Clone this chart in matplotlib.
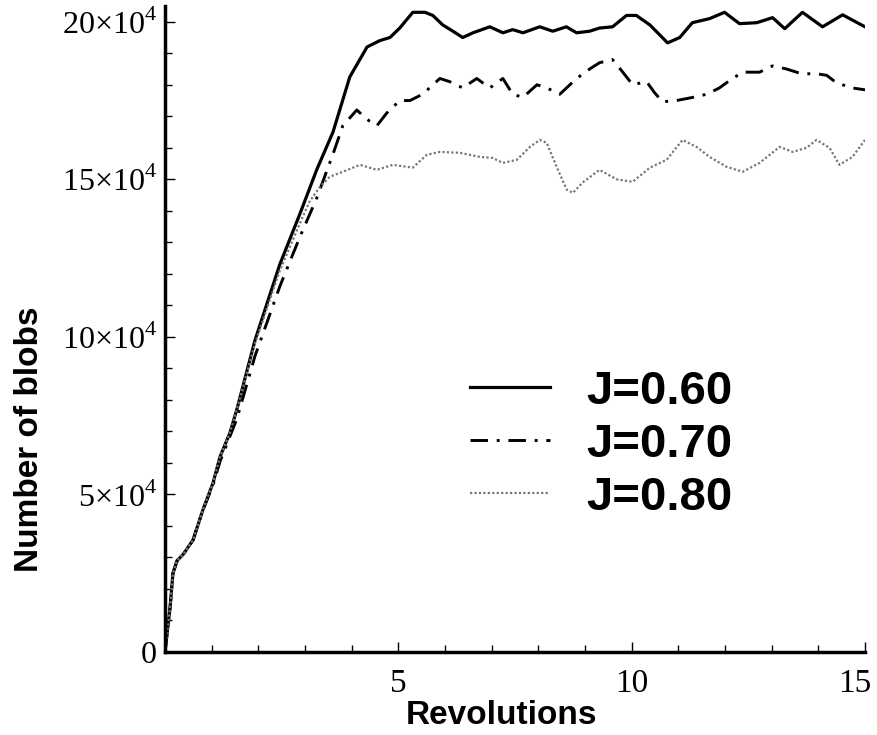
import numpy as np
import matplotlib
matplotlib.use('Agg')
import matplotlib.pyplot as plt
from matplotlib.transforms import ScaledTranslation

# number of blobs, in units of 1e4
j060_x = [0, 0.11, 0.17, 0.26, 0.39, 0.6, 0.81, 1.03, 1.18, 1.39, 1.54, 1.93, 2.46, 2.89, 3.25,
          3.6, 3.96, 4.33, 4.6, 4.82, 5.03, 5.31, 5.57, 5.74, 5.95, 6.17, 6.38, 6.6, 6.96, 7.24,
          7.45, 7.67, 8.03, 8.31, 8.6, 8.82, 9.1, 9.31, 9.59, 9.89, 10.1, 10.39, 10.77, 11.03,
          11.3, 11.67, 11.99, 12.31, 12.68, 13.02, 13.28, 13.66, 14.09, 14.52, 15.0]
j060_y = [0, 1.43, 2.5, 2.9, 3.1, 3.55, 4.5, 5.37, 6.2, 6.95, 7.7, 9.9, 12.3, 13.9, 15.3,
          16.5, 18.25, 19.2, 19.4, 19.5, 19.8, 20.3, 20.3, 20.2, 19.9, 19.7, 19.5, 19.65, 19.84, 19.65,
          19.75, 19.65, 19.84, 19.7, 19.84, 19.65, 19.7, 19.8, 19.84, 20.2, 20.2, 19.9, 19.33, 19.5,
          19.97, 20.1, 20.3, 19.94, 19.97, 20.13, 19.78, 20.3, 19.84, 20.22, 19.84]

j070_x = [0, 0.11, 0.17, 0.26, 0.39, 0.6, 0.81, 1.03, 1.18, 1.54, 1.93, 2.46, 2.89, 3.25, 3.6,
          3.81, 4.11, 4.33, 4.54, 4.75, 5.03, 5.25, 5.52, 5.89, 6.1, 6.38, 6.68, 6.96, 7.24, 7.45,
          7.67, 7.97, 8.18, 8.46, 8.82, 9.1, 9.31, 9.59, 9.81, 10.02, 10.32, 10.49, 10.66, 10.96,
          11.31, 11.61, 11.88, 12.16, 12.38, 12.74, 13.02, 13.32, 13.64, 13.96, 14.18, 14.39, 14.73, 15.0]
j070_y = [0, 1.43, 2.5, 2.9, 3.1, 3.55, 4.5, 5.3, 6.05, 7.4, 9.4, 11.6, 13.17, 14.4, 15.8,
          16.7, 17.2, 16.9, 16.7, 17.1, 17.5, 17.5, 17.7, 18.2, 18.1, 17.9, 18.2, 17.9, 18.2, 17.7,
          17.6, 18.0, 17.9, 17.7, 18.2, 18.5, 18.7, 18.8, 18.4, 18.0, 18.1, 17.75, 17.46, 17.5,
          17.6, 17.7, 17.9, 18.2, 18.4, 18.4, 18.6, 18.5, 18.35, 18.35, 18.3, 18.06, 17.9, 17.84]

j080_x = [0, 0.11, 0.17, 0.26, 0.39, 0.6, 0.81, 1.03, 1.18, 1.39, 1.54, 1.93, 2.46, 2.89, 3.1,
          3.32, 3.53, 3.81, 4.18, 4.54, 4.88, 5.31, 5.61, 5.89, 6.32, 6.75, 7.02, 7.24, 7.54, 7.82,
          8.03, 8.18, 8.39, 8.61, 8.74, 8.95, 9.31, 9.68, 10.02, 10.39, 10.75, 11.09, 11.39, 11.67,
          12.03, 12.38, 12.74, 13.17, 13.45, 13.75, 13.96, 14.24, 14.45, 14.73, 15.0]
j080_y = [0, 1.43, 2.5, 2.9, 3.1, 3.55, 4.5, 5.37, 6.2, 6.95, 7.7, 9.8, 12.1, 13.6, 14.3,
          14.76, 15.08, 15.24, 15.46, 15.3, 15.46, 15.37, 15.78, 15.87, 15.84, 15.71, 15.68, 15.52, 15.62, 16.03,
          16.25, 16.16, 15.4, 14.67, 14.57, 14.9, 15.3, 15.0, 14.92, 15.37, 15.62, 16.25, 16.03, 15.71,
          15.4, 15.24, 15.52, 16.03, 15.87, 16.0, 16.25, 16.0, 15.46, 15.71, 16.25]

labels = ['J=0.60', 'J=0.70', 'J=0.80']
y_ticks = [0, 5, 10, 15, 20]
x_ticks = [5, 10, 15]

plt.rcParams['mathtext.fontset'] = 'custom'
plt.rcParams['mathtext.rm'] = 'Liberation Serif'

fig = plt.figure(figsize=(8.77, 7.35), dpi=100)
ax = fig.add_axes([165 / 877, 1 - 652 / 735, 700 / 877, 646 / 735])

ax.plot(j060_x, np.array(j060_y) * 1e4, color='black', lw=2.3, label=labels[0])
ax.plot(j070_x, np.array(j070_y) * 1e4, color='black', lw=2.1,
        linestyle=(0, (6, 3, 1, 3)), label=labels[1])
ax.plot(j080_x, np.array(j080_y) * 1e4, color='#777777', lw=1.6,
        linestyle=(0, (1, 1)), label=labels[2])

ax.set_xlim(0, 15)
ax.set_ylim(0, 20.5e4)

for s in ['top', 'right']:
    ax.spines[s].set_visible(False)
for s in ['left', 'bottom']:
    ax.spines[s].set_linewidth(2.5)

ax.set_xticks(x_ticks)
ax.set_xticks(np.arange(1, 15), minor=True)
ax.set_yticks([v * 1e4 for v in y_ticks])
ax.set_yticks(np.arange(1, 21) * 1e4, minor=True)

ylabs = ['0'] + [r'%d$\times$10$^{4}$' % v for v in y_ticks[1:]]
ax.set_yticklabels(ylabs, family='Liberation Serif', fontsize=23)
ax.set_xticklabels([str(v) for v in x_ticks], family='Liberation Serif', fontsize=24)

ax.tick_params(which='both', direction='in', width=1, colors='black')
ax.tick_params(which='major', length=7)
ax.tick_params(which='minor', length=5)
ax.tick_params(axis='y', pad=6)
ax.tick_params(axis='x', pad=12)

# last x label sits at the right edge, nudge it in
last = ax.get_xticklabels()[-1]
last.set_transform(last.get_transform() + ScaledTranslation(-10 / 100, 0, fig.dpi_scale_trans))

ax.set_xlabel('Revolutions', family='Liberation Sans', fontweight='bold', fontsize=24)
ax.set_ylabel('Number of blobs', family='Liberation Sans', fontweight='bold', fontsize=24)
ax.xaxis.set_label_coords(0.48, -0.075)
ax.yaxis.set_label_coords(-0.172, 0.33)

ax.legend(loc='upper left', bbox_to_anchor=(0.436, 0.437), frameon=False,
          prop={'family': 'Liberation Sans', 'weight': 'bold', 'size': 34},
          handlelength=1.7, handletextpad=0.75, labelspacing=0.19,
          borderpad=0, borderaxespad=0)

fig.savefig('out.png', dpi=100)
